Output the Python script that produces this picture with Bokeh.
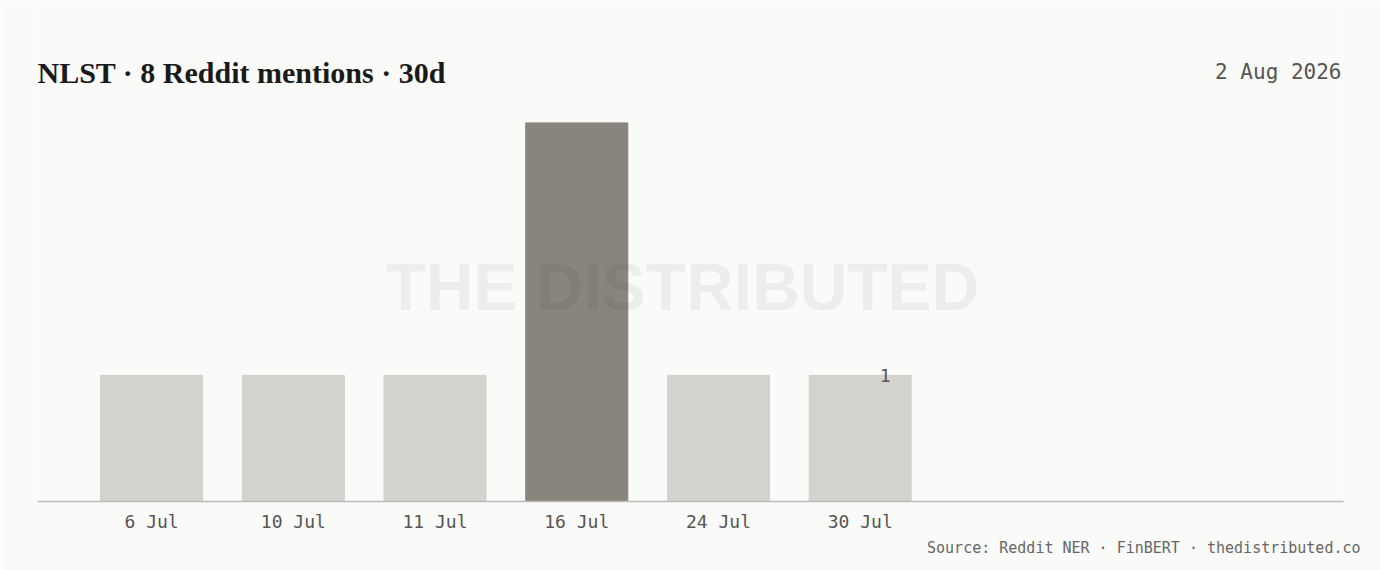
from bokeh.plotting import figure
from bokeh.models import ColumnDataSource, Label, FixedTicker, Range1d, Title
from bokeh.embed import file_html
from bokeh.resources import INLINE

# data
days = ["6 Jul", "10 Jul", "11 Jul", "16 Jul", "24 Jul", "30 Jul"]
mentions = [1, 1, 1, 3, 1, 1]
peak_day = "16 Jul"
symbol = "NLST"
window = "30d"
as_of = "2 Aug 2026"
source_note = "Source: Reddit NER \u00b7 FinBERT \u00b7 thedistributed.co"
watermark = "THE DISTRIBUTED"

BG = "#fafaf8"
LIGHT = "#d3d2ce"
DARK = "#89847c"
INK = "#1a1a1a"
GREY = "#555555"
MONO = "DejaVu Sans Mono"

pos = list(range(len(days)))
colors = [DARK if d == peak_day else LIGHT for d in days]
src = ColumnDataSource(dict(x=pos, top=mentions, color=colors, day=days))

# frame runs from the top of the canvas down to the baseline,
# so the headline and date sit inside it
p = figure(width=1380, height=570,
           x_range=Range1d(-0.805, 8.41), y_range=Range1d(0, 3.97),
           output_backend="svg", toolbar_location=None, y_axis_location=None,
           min_border_left=37, min_border_right=37,
           min_border_top=0, min_border_bottom=69,
           background_fill_color=BG, border_fill_color=BG,
           outline_line_color=None)

p.vbar(x="x", top="top", width=0.72, color="color", source=src)

p.xgrid.visible = False
p.ygrid.visible = False
p.xaxis.ticker = FixedTicker(ticks=pos)
p.xaxis.major_label_overrides = {i: d for i, d in enumerate(days)}
p.xaxis.axis_line_color = "#bbbbbb"
p.xaxis.axis_line_width = 1.5
p.xaxis.major_tick_line_color = None
p.xaxis.minor_tick_line_color = None
p.xaxis.major_tick_in = 0
p.xaxis.major_tick_out = 0
p.xaxis.major_label_standoff = 9
p.xaxis.major_label_text_font = MONO
p.xaxis.major_label_text_font_size = "18px"
p.xaxis.major_label_text_color = GREY

# source note under the axis
p.add_layout(Title(text=source_note, align="right", offset=-17,
                   text_font=MONO, text_font_size="15px",
                   text_font_style="normal", text_color="#666666",
                   standoff=4), "below")

# headline and date (screen units from frame bottom-left)
p.add_layout(Label(x=0, y=429, x_units="screen", y_units="screen",
                   text=f"{symbol} \u00b7 {sum(mentions)} Reddit mentions \u00b7 {window}",
                   text_font="Liberation Serif", text_font_style="bold",
                   text_font_size="30px", text_color=INK,
                   text_baseline="alphabetic"))
p.add_layout(Label(x=1304, y=430, x_units="screen", y_units="screen",
                   text=as_of, text_font=MONO, text_font_size="21px",
                   text_color=GREY, text_align="right",
                   text_baseline="alphabetic"))

# watermark
p.add_layout(Label(x=645, y=215, x_units="screen", y_units="screen",
                   text=watermark, text_font="Liberation Sans",
                   text_font_style="bold", text_font_size="66px",
                   text_color="#000000", text_alpha=0.05,
                   text_align="center", text_baseline="middle"))

# value label for the last bar
p.add_layout(Label(x=pos[-1], y=mentions[-1], x_offset=25,
                   text=str(mentions[-1]), text_font=MONO,
                   text_font_size="18px", text_color=GREY,
                   text_align="center", text_baseline="middle"))

open("out.html", "w").write(file_html(p, INLINE))
